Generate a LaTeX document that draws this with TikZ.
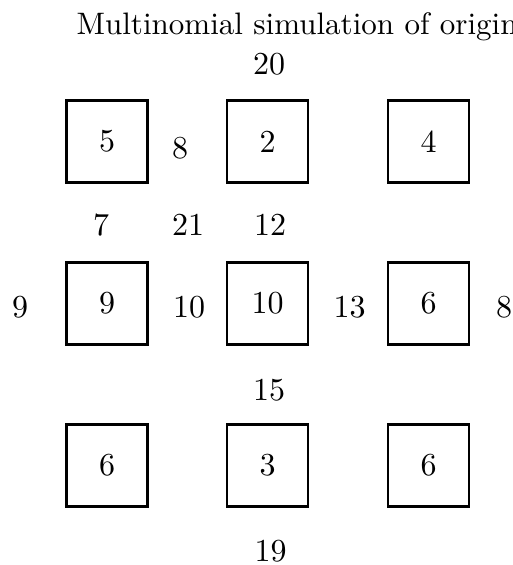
\documentclass[tikz,border=0pt]{standalone}
\begin{document}
\begin{tikzpicture}[x=0.3125pt,y=-0.3125pt,
  cell/.style={draw,line width=0.8pt,minimum width=25.3pt,minimum height=25.6pt,inner sep=0pt},
  lab/.style={inner sep=0pt}]
\useasboundingbox (0,0) rectangle (512,565);
\node[lab,anchor=base west,font=\fontsize{9.7pt}{11pt}\selectfont] (title) at (76,35) {Multinomial simulation of origin};
% boxes
\node[cell] (b11) at (107,141.5) {5};
\node[cell] (b12) at (267.5,141.5) {2};
\node[cell] (b13) at (428.5,141.5) {4};
\node[cell] (b21) at (107,303.5) {9};
\node[cell] (b22) at (267.5,303.5) {10};
\node[cell] (b23) at (428.5,303.5) {6};
\node[cell] (b31) at (107,465.5) {6};
\node[cell] (b32) at (267.5,465.5) {3};
\node[cell] (b33) at (428.5,465.5) {6};
% labels
\node[lab] (l20) at (269,64) {20};
\node[lab] (l8a) at (180,148) {8};
\node[lab] (l7) at (101,225) {7};
\node[lab] (l21) at (188,225) {21};
\node[lab] (l12) at (270,225) {12};
\node[lab] (l9) at (20,307.5) {9};
\node[lab] (l10) at (189,307.5) {10};
\node[lab] (l13) at (349.5,307.5) {13};
\node[lab] (l8b) at (504,307.5) {8};
\node[lab] (l15) at (269,390) {15};
\node[lab] (l19) at (270.5,551) {19};
\end{tikzpicture}
\end{document}
